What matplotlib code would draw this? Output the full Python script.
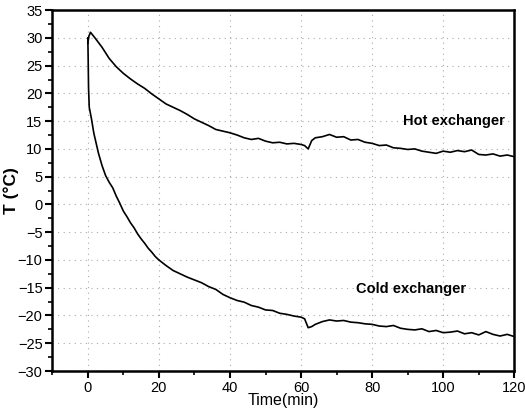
import matplotlib
matplotlib.use("Agg")
import matplotlib.pyplot as plt
from matplotlib.ticker import MultipleLocator

# hot exchanger temperature
hot_t = [0, 0.3, 0.75, 2, 4, 6, 8, 10, 12, 14, 16, 18, 20, 22, 24, 26, 28, 30,
         32, 34, 36, 38, 40, 42, 44, 46, 48, 50, 52, 54, 56, 58, 60, 61, 62,
         63, 64, 66, 68, 70, 72, 74, 76, 78, 80, 82, 84, 86, 88, 90, 92, 94,
         96, 98, 100, 102, 104, 106, 108, 110, 112, 114, 116, 118, 120]
hot_T = [29.0, 30.3, 31.0, 30.0, 28.3, 26.3, 24.8, 23.6, 22.6, 21.7, 20.9,
         19.9, 19.0, 18.1, 17.5, 16.9, 16.2, 15.4, 14.8, 14.2, 13.5, 13.2,
         12.9, 12.5, 12.0, 11.7, 11.9, 11.4, 11.1, 11.2, 10.9, 11.0, 10.8,
         10.6, 10.0, 11.5, 12.0, 12.2, 12.6, 12.1, 12.2, 11.6, 11.7, 11.2,
         11.0, 10.6, 10.7, 10.2, 10.1, 9.9, 10.0, 9.6, 9.4, 9.2, 9.6, 9.4,
         9.7, 9.5, 9.8, 9.0, 8.9, 9.1, 8.7, 8.9, 8.6]

# cold exchanger temperature
cold_t = [0, 0.1, 0.2, 0.4, 1.0, 1.7, 3, 4, 5, 6, 7, 8, 9, 10, 11, 12, 13, 14,
          15, 16, 17, 18, 19, 20, 22, 24, 26, 28, 30, 32, 34, 36, 38, 40, 42,
          44, 46, 48, 50, 52, 54, 56, 58, 60, 61, 62, 63, 64, 66, 68, 70, 72,
          74, 76, 78, 80, 82, 84, 86, 88, 90, 92, 94, 96, 98, 100, 102, 104,
          106, 108, 110, 112, 114, 116, 118, 120]
cold_T = [30.0, 26.0, 21.0, 17.5, 15.5, 12.8, 9.2, 7.0, 5.2, 4.0, 3.0, 1.5,
          0.2, -1.2, -2.2, -3.3, -4.2, -5.3, -6.2, -7.0, -7.9, -8.6, -9.4,
          -10.0, -11.0, -11.9, -12.5, -13.1, -13.6, -14.1, -14.8, -15.3,
          -16.2, -16.8, -17.3, -17.6, -18.2, -18.5, -19.0, -19.1, -19.6,
          -19.8, -20.1, -20.3, -20.6, -22.2, -22.0, -21.6, -21.1, -20.8,
          -21.0, -20.9, -21.2, -21.3, -21.5, -21.6, -21.9, -22.0, -21.8,
          -22.3, -22.5, -22.6, -22.4, -22.9, -22.7, -23.1, -23.0, -22.8,
          -23.3, -23.1, -23.5, -22.9, -23.4, -23.7, -23.4, -23.8]

plt.rcParams["font.family"] = ["Liberation Sans", "DejaVu Sans"]

fig = plt.figure(figsize=(5.25, 4.12), dpi=100)
ax = fig.add_axes([0.0996, 0.0995, 0.880, 0.876])

ax.plot(hot_t, hot_T, color="black", lw=1.2)
ax.plot(cold_t, cold_T, color="black", lw=1.2)

ax.set_xlim(-10, 120)
ax.set_ylim(-30, 35)
ax.xaxis.set_major_locator(MultipleLocator(20))
ax.xaxis.set_minor_locator(MultipleLocator(10))
ax.yaxis.set_major_locator(MultipleLocator(5))
ax.yaxis.set_minor_locator(MultipleLocator(2.5))
ax.tick_params(which="major", direction="out", length=5, width=1.5,
               labelsize=10.5, pad=2)
ax.tick_params(which="minor", direction="out", length=3, width=1.2)
for s in ax.spines.values():
    s.set_linewidth(1.8)

ax.grid(True, which="major", linestyle=(0, (1, 4)), color="#aaaaaa", lw=0.8)

ax.set_xlabel("Time(min)", fontsize=11.5, labelpad=-1)
ax.set_ylabel("T (°C)", fontsize=12.5, fontweight="bold")
ax.yaxis.set_label_coords(-0.072, 0.5)

ax.text(103, 15.0, "Hot exchanger", fontsize=10.5, fontweight="bold",
        ha="center", va="center")
ax.text(91, -15.3, "Cold exchanger", fontsize=10.5, fontweight="bold",
        ha="center", va="center")

fig.savefig("out.png", dpi=100)
